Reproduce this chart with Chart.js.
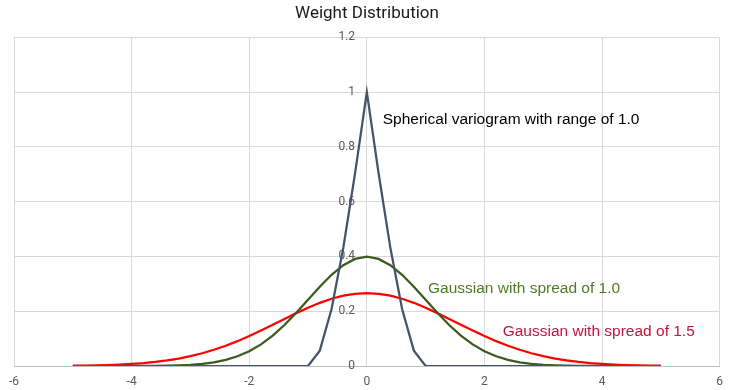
<!DOCTYPE html>
<html>
<head>
<meta charset="utf-8">
<script src="https://cdn.jsdelivr.net/npm/chart.js@4/dist/chart.umd.min.js"></script>
<style>
    html, body { margin: 0; padding: 0; background: #fff; }
    canvas { display: block; }
</style>
</head>
<body>
<canvas id="chart" width="732" height="390"></canvas>
<script>
const xValues = [-5, -4.8, -4.6, -4.4, -4.2, -4, -3.8, -3.6, -3.4, -3.2, -3, -2.8, -2.6, -2.4, -2.2, -2,
    -1.8, -1.6, -1.4, -1.2, -1, -0.8, -0.6, -0.4, -0.2, 0, 0.2, 0.4, 0.6, 0.8, 1, 1.2, 1.4, 1.6, 1.8,
    2, 2.2, 2.4, 2.6, 2.8, 3, 3.2, 3.4, 3.6, 3.8, 4, 4.2, 4.4, 4.6, 4.8, 5];

const spherical = [0, 0, 0, 0, 0, 0, 0, 0, 0, 0, 0, 0, 0, 0, 0, 0, 0, 0, 0, 0, 0,
    0.056, 0.208, 0.432, 0.704, 1, 0.704, 0.432, 0.208, 0.056,
    0, 0, 0, 0, 0, 0, 0, 0, 0, 0, 0, 0, 0, 0, 0, 0, 0, 0, 0, 0, 0];

const gauss10 = [0, 0, 0, 0, 0.0001, 0.0001, 0.0003, 0.0006, 0.0012, 0.0024, 0.0044, 0.0079, 0.0136,
    0.0224, 0.0355, 0.054, 0.079, 0.1109, 0.1497, 0.1942, 0.242, 0.2897, 0.3332, 0.3683, 0.391,
    0.3989,
    0.391, 0.3683, 0.3332, 0.2897, 0.242, 0.1942, 0.1497, 0.1109, 0.079, 0.054, 0.0355, 0.0224,
    0.0136, 0.0079, 0.0044, 0.0024, 0.0012, 0.0006, 0.0003, 0.0001, 0.0001, 0, 0, 0, 0];

const gauss15 = [0.001, 0.0016, 0.0024, 0.0036, 0.0053, 0.0076, 0.0107, 0.0149, 0.0204, 0.0273, 0.036,
    0.0466, 0.0592, 0.0739, 0.0907, 0.1093, 0.1295, 0.1506, 0.172, 0.1931, 0.213, 0.2307, 0.2455,
    0.2567, 0.2636,
    0.266,
    0.2636, 0.2567, 0.2455, 0.2307, 0.213, 0.1931, 0.172, 0.1506, 0.1295, 0.1093, 0.0907, 0.0739,
    0.0592, 0.0466, 0.036, 0.0273, 0.0204, 0.0149, 0.0107, 0.0076, 0.0053, 0.0036, 0.0024, 0.0016, 0.001];

const xTicks = [-6, -4, -2, 0, 2, 4, 6];
const yTicks = [0, 0.2, 0.4, 0.6, 0.8, 1, 1.2];

// text notes, placed in data units
const notes = [
    { text: 'Spherical variogram with range of 1.0', x: 0.27, y: 0.9, color: '#000000' },
    { text: 'Gaussian with spread of 1.0', x: 1.04, y: 0.284, color: '#4E7A27' },
    { text: 'Gaussian with spread of 1.5', x: 2.31, y: 0.124, color: '#C0143C' }
];

const tickFont = { family: "'Roboto', sans-serif", size: 12 };

function toPoints(ys) {
    return xValues.map((x, i) => ({ x, y: ys[i] }));
}

const notesPlugin = {
    id: 'notes',
    afterDatasetsDraw(chart) {
        const { ctx, scales } = chart;
        ctx.save();
        ctx.font = "15.5px 'Liberation Sans', Arial, sans-serif";
        ctx.textBaseline = 'middle';
        ctx.textAlign = 'left';
        notes.forEach(n => {
            ctx.fillStyle = n.color;
            ctx.fillText(n.text, scales.x.getPixelForValue(n.x), scales.y.getPixelForValue(n.y));
        });
        ctx.restore();
    }
};

new Chart(document.getElementById('chart'), {
    type: 'line',
    data: {
        datasets: [
            { label: 'Spherical', data: toPoints(spherical), borderColor: '#44546A', borderWidth: 2.25 },
            { label: 'Gaussian 1.0', data: toPoints(gauss10), borderColor: '#3B5A20', borderWidth: 2.25 },
            { label: 'Gaussian 1.5', data: toPoints(gauss15), borderColor: '#FF0000', borderWidth: 2.25 }
        ]
    },
    options: {
        responsive: false,
        animation: false,
        parsing: false,
        elements: { point: { radius: 0 }, line: { tension: 0 } },
        layout: { padding: { left: 14, right: 12, top: 0, bottom: 0 } },
        plugins: {
            legend: { display: false },
            tooltip: { enabled: false },
            title: {
                display: true,
                text: 'Weight Distribution',
                color: '#1a1a1a',
                font: { family: "'Roboto', sans-serif", size: 17, weight: 'normal' },
                padding: { top: 4, bottom: 13 }
            }
        },
        scales: {
            x: {
                type: 'linear',
                min: -6,
                max: 6,
                afterBuildTicks: s => { s.ticks = xTicks.map(v => ({ value: v })); },
                afterFit: s => { s.height = 24; },
                grid: { color: '#D9D9D9', drawTicks: false },
                border: { color: '#BFBFBF' },
                ticks: { color: '#595959', font: tickFont, padding: 9, maxRotation: 0 }
            },
            y: {
                type: 'linear',
                // labels sit just left of the x = 0 gridline
                position: { x: -0.2 },
                min: 0,
                max: 1.2,
                afterBuildTicks: s => { s.ticks = yTicks.map(v => ({ value: v })); },
                grid: { color: '#D9D9D9', drawTicks: false },
                border: { display: false },
                ticks: { color: '#595959', font: tickFont, callback: v => String(v) }
            }
        }
    },
    plugins: [notesPlugin]
});
</script>
</body>
</html>
